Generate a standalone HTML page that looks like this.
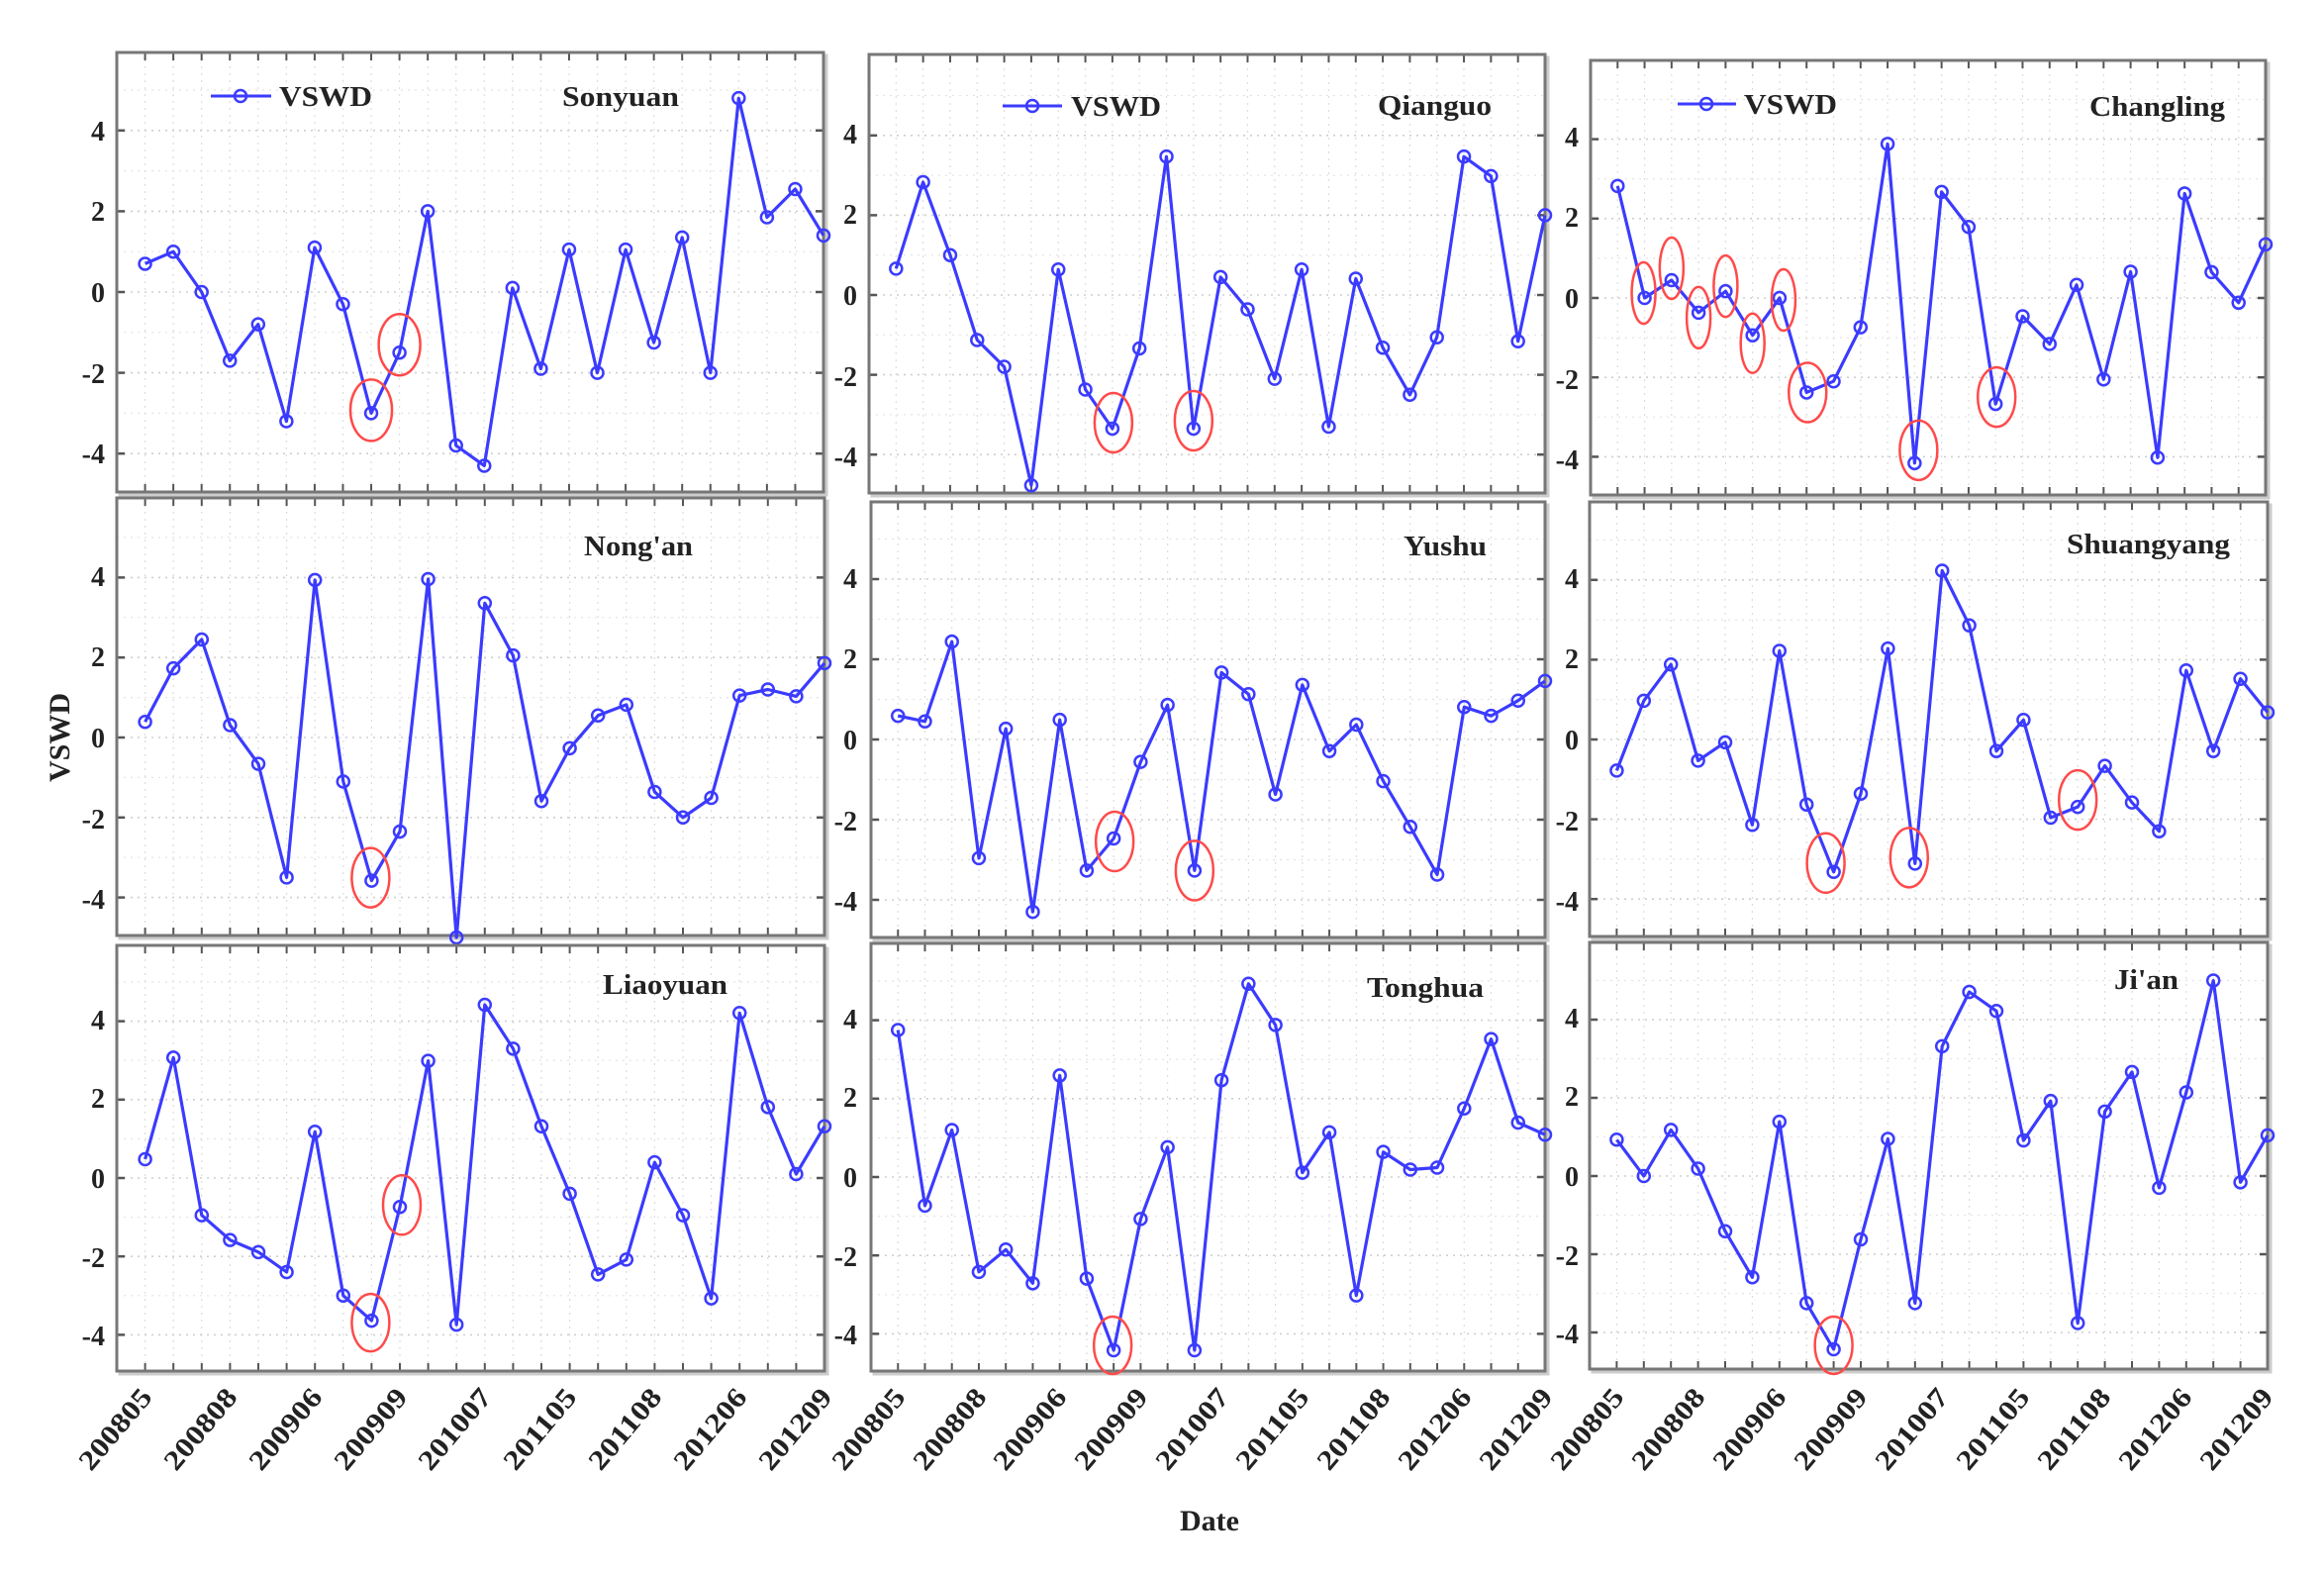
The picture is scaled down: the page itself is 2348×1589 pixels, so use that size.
<!DOCTYPE html>
<html><head><meta charset="utf-8">
<style>
html,body{margin:0;padding:0;background:#fff;}
svg text{font-family:"Liberation Serif",serif;font-weight:bold;fill:#222;}
</style></head>
<body>
<svg id="s" width="2348" height="1584" viewBox="0 0 2348 1584" xmlns="http://www.w3.org/2000/svg">
<rect width="2348" height="1584" fill="#fff"/>
<g id="plots"></g>

<g font-size="28" text-anchor="end">
  <g transform="translate(106,295)"><text y="-153">4</text><text y="-72">2</text><text y="10">0</text><text y="92">-2</text><text y="173">-4</text></g>
  <g transform="translate(866,298)"><text y="-153">4</text><text y="-72">2</text><text y="10">0</text><text y="92">-2</text><text y="173">-4</text></g>
  <g transform="translate(1595,301)"><text y="-153">4</text><text y="-72">2</text><text y="10">0</text><text y="92">-2</text><text y="173">-4</text></g>
  <g transform="translate(106,745)"><text y="-153">4</text><text y="-72">2</text><text y="10">0</text><text y="92">-2</text><text y="173">-4</text></g>
  <g transform="translate(866,747)"><text y="-153">4</text><text y="-72">2</text><text y="10">0</text><text y="92">-2</text><text y="173">-4</text></g>
  <g transform="translate(1595,747)"><text y="-153">4</text><text y="-72">2</text><text y="10">0</text><text y="92">-2</text><text y="173">-4</text></g>
  <g transform="translate(106,1190)"><text y="-150">4</text><text y="-71">2</text><text y="10">0</text><text y="90">-2</text><text y="169">-4</text></g>
  <g transform="translate(866,1189)"><text y="-150">4</text><text y="-71">2</text><text y="10">0</text><text y="90">-2</text><text y="169">-4</text></g>
  <g transform="translate(1595,1188)"><text y="-150">4</text><text y="-71">2</text><text y="10">0</text><text y="90">-2</text><text y="169">-4</text></g>
</g>

<g font-size="28">
  <line x1="213" y1="97" x2="274" y2="97" stroke="#3b3bff" stroke-width="3"/><circle cx="243" cy="97" r="6" fill="none" stroke="#3b3bff" stroke-width="2.5"/>
  <text x="282" y="107" textLength="94" lengthAdjust="spacingAndGlyphs">VSWD</text>
  <text x="568" y="107" textLength="118" lengthAdjust="spacingAndGlyphs">Sonyuan</text>

  <line x1="1013" y1="107" x2="1073" y2="107" stroke="#3b3bff" stroke-width="3"/><circle cx="1043" cy="107" r="6" fill="none" stroke="#3b3bff" stroke-width="2.5"/>
  <text x="1082" y="117" textLength="91" lengthAdjust="spacingAndGlyphs">VSWD</text>
  <text x="1392" y="116" textLength="115" lengthAdjust="spacingAndGlyphs">Qianguo</text>

  <line x1="1695" y1="105" x2="1754" y2="105" stroke="#3b3bff" stroke-width="3"/><circle cx="1724" cy="105" r="6" fill="none" stroke="#3b3bff" stroke-width="2.5"/>
  <text x="1762" y="115" textLength="94" lengthAdjust="spacingAndGlyphs">VSWD</text>
  <text x="2111" y="117" textLength="137" lengthAdjust="spacingAndGlyphs">Changling</text>

  <text x="590" y="561" textLength="110" lengthAdjust="spacingAndGlyphs">Nong'an</text>
  <text x="1418" y="561" textLength="84" lengthAdjust="spacingAndGlyphs">Yushu</text>
  <text x="2088" y="559" textLength="165" lengthAdjust="spacingAndGlyphs">Shuangyang</text>

  <text x="609" y="1004" textLength="126" lengthAdjust="spacingAndGlyphs">Liaoyuan</text>
  <text x="1381" y="1007" textLength="118" lengthAdjust="spacingAndGlyphs">Tonghua</text>
  <text x="2136" y="999" textLength="65" lengthAdjust="spacingAndGlyphs">Ji'an</text>
</g>

<g font-size="28" text-anchor="end">
  <text transform="translate(155,1412) rotate(-50)" textLength="98" lengthAdjust="spacingAndGlyphs">200805</text>
  <text transform="translate(241,1412) rotate(-50)" textLength="98" lengthAdjust="spacingAndGlyphs">200808</text>
  <text transform="translate(327,1412) rotate(-50)" textLength="98" lengthAdjust="spacingAndGlyphs">200906</text>
  <text transform="translate(413,1412) rotate(-50)" textLength="98" lengthAdjust="spacingAndGlyphs">200909</text>
  <text transform="translate(498,1412) rotate(-50)" textLength="98" lengthAdjust="spacingAndGlyphs">201007</text>
  <text transform="translate(584,1412) rotate(-50)" textLength="98" lengthAdjust="spacingAndGlyphs">201105</text>
  <text transform="translate(670,1412) rotate(-50)" textLength="98" lengthAdjust="spacingAndGlyphs">201108</text>
  <text transform="translate(756,1412) rotate(-50)" textLength="98" lengthAdjust="spacingAndGlyphs">201206</text>
  <text transform="translate(842,1412) rotate(-50)" textLength="98" lengthAdjust="spacingAndGlyphs">201209</text>

  <text transform="translate(916,1412) rotate(-50)" textLength="98" lengthAdjust="spacingAndGlyphs">200805</text>
  <text transform="translate(998,1412) rotate(-50)" textLength="98" lengthAdjust="spacingAndGlyphs">200808</text>
  <text transform="translate(1079,1412) rotate(-50)" textLength="98" lengthAdjust="spacingAndGlyphs">200906</text>
  <text transform="translate(1161,1412) rotate(-50)" textLength="98" lengthAdjust="spacingAndGlyphs">200909</text>
  <text transform="translate(1243,1412) rotate(-50)" textLength="98" lengthAdjust="spacingAndGlyphs">201007</text>
  <text transform="translate(1324,1412) rotate(-50)" textLength="98" lengthAdjust="spacingAndGlyphs">201105</text>
  <text transform="translate(1406,1412) rotate(-50)" textLength="98" lengthAdjust="spacingAndGlyphs">201108</text>
  <text transform="translate(1488,1412) rotate(-50)" textLength="98" lengthAdjust="spacingAndGlyphs">201206</text>
  <text transform="translate(1570,1412) rotate(-50)" textLength="98" lengthAdjust="spacingAndGlyphs">201209</text>

  <text transform="translate(1642,1412) rotate(-50)" textLength="98" lengthAdjust="spacingAndGlyphs">200805</text>
  <text transform="translate(1724,1412) rotate(-50)" textLength="98" lengthAdjust="spacingAndGlyphs">200808</text>
  <text transform="translate(1806,1412) rotate(-50)" textLength="98" lengthAdjust="spacingAndGlyphs">200906</text>
  <text transform="translate(1888,1412) rotate(-50)" textLength="98" lengthAdjust="spacingAndGlyphs">200909</text>
  <text transform="translate(1970,1412) rotate(-50)" textLength="98" lengthAdjust="spacingAndGlyphs">201007</text>
  <text transform="translate(2052,1412) rotate(-50)" textLength="98" lengthAdjust="spacingAndGlyphs">201105</text>
  <text transform="translate(2134,1412) rotate(-50)" textLength="98" lengthAdjust="spacingAndGlyphs">201108</text>
  <text transform="translate(2216,1412) rotate(-50)" textLength="98" lengthAdjust="spacingAndGlyphs">201206</text>
  <text transform="translate(2298,1412) rotate(-50)" textLength="98" lengthAdjust="spacingAndGlyphs">201209</text>
</g>

<text x="1222" y="1546" font-size="30" text-anchor="middle">Date</text>
<text transform="translate(70,745) rotate(-90)" font-size="30" text-anchor="middle">VSWD</text>
</svg>

<script>
var P=[
 {l:118,r:832,t:53,b:497,y0:295,u:40.8,d:[0.7,1.0,0,-1.7,-0.8,-3.2,1.1,-0.3,-3.0,-1.5,2.0,-3.8,-4.3,0.1,-1.9,1.05,-2.0,1.05,-1.25,1.35,-2.0,4.8,1.85,2.55,1.4],e:[[8,21,31,0,-3],[9,21,31,0,-8]]},
 {l:878,r:1561,t:55,b:498,y0:298,u:40.3,d:[0.66,2.83,1.0,-1.13,-1.8,-4.77,0.64,-2.37,-3.35,-1.34,3.47,-3.35,0.45,-0.36,-2.1,0.64,-3.3,0.41,-1.32,-2.5,-1.06,3.47,2.98,-1.16,2.0],e:[[8,19,30,1,-6],[11,19,30,0,-8]]},
 {l:1607,r:2289,t:61,b:500,y0:301,u:40.1,d:[2.82,0,0.45,-0.37,0.17,-0.94,0,-2.38,-2.1,-0.74,3.88,-4.16,2.67,1.79,-2.67,-0.46,-1.16,0.33,-2.05,0.66,-4.02,2.63,0.65,-0.12,1.35],e:[[1,12,31,-1,-5],[2,12,31,0,-12],[3,12,31,0,5],[4,12,31,0,-5],[5,12,30,0,8],[6,12,31,4,2],[7,19,30,1,0],[11,19,30,4,-13],[14,19,30,1,-7]]},
 {l:118,r:833,t:503,b:945,y0:745,u:40.4,d:[0.39,1.73,2.45,0.31,-0.66,-3.5,3.94,-1.1,-3.58,-2.35,3.96,-5.0,3.36,2.05,-1.59,-0.27,0.55,0.82,-1.36,-2.0,-1.51,1.05,1.2,1.03,1.86],e:[[8,19,30,-1,-3]]},
 {l:880,r:1561,t:507,b:947,y0:747,u:40.5,d:[0.59,0.45,2.44,-2.96,0.27,-4.3,0.49,-3.27,-2.47,-0.56,0.86,-3.27,1.67,1.13,-1.37,1.36,-0.29,0.37,-1.04,-2.18,-3.37,0.81,0.59,0.97,1.46],e:[[8,19,30,1,3],[11,19,30,0,0]]},
 {l:1606,r:2291,t:507,b:946,y0:747,u:40.3,d:[-0.78,0.97,1.88,-0.53,-0.07,-2.14,2.22,-1.63,-3.32,-1.36,2.28,-3.11,4.23,2.86,-0.29,0.49,-1.96,-1.69,-0.66,-1.58,-2.3,1.73,-0.29,1.52,0.68],e:[[8,19,30,-8,-9],[11,19,30,-6,-6],[17,19,30,0,-7]]},
 {l:118,r:833,t:955,b:1385,y0:1190,u:39.6,d:[0.48,3.07,-0.95,-1.58,-1.89,-2.4,1.18,-3.0,-3.64,-0.74,2.99,-3.74,4.42,3.3,1.32,-0.4,-2.46,-2.08,0.4,-0.95,-3.07,4.21,1.81,0.1,1.32],e:[[8,19,29,-1,2],[9,19,30,2,-2]]},
 {l:880,r:1561,t:953,b:1385,y0:1189,u:39.6,d:[3.75,-0.73,1.2,-2.42,-1.85,-2.71,2.59,-2.59,-4.42,-1.07,0.76,-4.42,2.47,4.93,3.88,0.11,1.14,-3.02,0.64,0.19,0.24,1.75,3.52,1.39,1.08],e:[[8,19,29,-1,-5]]},
 {l:1606,r:2291,t:952,b:1383,y0:1188,u:39.5,d:[0.93,0,1.18,0.19,-1.41,-2.59,1.39,-3.25,-4.43,-1.62,0.95,-3.25,3.32,4.71,4.22,0.91,1.92,-3.76,1.65,2.66,-0.3,2.14,5.0,-0.16,1.04],e:[[8,19,29,0,-4]]}
];
var NS="http://www.w3.org/2000/svg",G=document.getElementById("plots");
function el(n,a){var e=document.createElementNS(NS,n);for(var k in a)e.setAttribute(k,a[k]);G.appendChild(e);return e;}
P.forEach(function(p){
  var s=(p.r-p.l)/25;
  function X(i){return p.l+(i+1)*s;}
  function Y(v){return p.y0-v*p.u;}
  el("rect",{x:p.l+3,y:p.t+3,width:p.r-p.l,height:p.b-p.t,fill:"none",stroke:"#ccc","stroke-width":3});
  el("rect",{x:p.l,y:p.t,width:p.r-p.l,height:p.b-p.t,fill:"#fff"});
  for(var i=0;i<24;i++){var x=X(i);el("line",{x1:x,y1:p.t,x2:x,y2:p.b,stroke:"#ddd","stroke-width":1.2,"stroke-dasharray":"2 5"});}
  for(var v=-5;v<=5;v++){var y=Y(v);if(y<=p.t+2||y>=p.b-2)continue;el("line",{x1:p.l,y1:y,x2:p.r,y2:y,stroke:v%2==0?"#cfcfcf":"#e4e4e4","stroke-width":v%2==0?1.6:1.2,"stroke-dasharray":"2 5"});}
  for(var i=0;i<24;i++){var x=X(i);el("line",{x1:x,y1:p.t,x2:x,y2:p.t+8,stroke:"#555","stroke-width":2});el("line",{x1:x,y1:p.b,x2:x,y2:p.b-8,stroke:"#555","stroke-width":2});}
  for(var v=-4;v<=4;v+=2){var y=Y(v);el("line",{x1:p.l,y1:y,x2:p.l+8,y2:y,stroke:"#555","stroke-width":2.5});el("line",{x1:p.r,y1:y,x2:p.r-8,y2:y,stroke:"#555","stroke-width":2.5});}
  el("rect",{x:p.l,y:p.t,width:p.r-p.l,height:p.b-p.t,fill:"none",stroke:"#777","stroke-width":3});
  var pts=p.d.map(function(v,i){return X(i).toFixed(1)+","+Y(v).toFixed(1);}).join(" ");
  el("polyline",{points:pts,fill:"none",stroke:"#3b3bff","stroke-width":3.2,"stroke-linejoin":"round"});
  p.d.forEach(function(v,i){el("circle",{cx:X(i),cy:Y(v),r:6,fill:"none",stroke:"#3b3bff","stroke-width":2.5});});
  p.e.forEach(function(e){el("ellipse",{cx:X(e[0])+e[3],cy:Y(p.d[e[0]])+e[4],rx:e[1],ry:e[2],fill:"none",stroke:"#ff4a4a","stroke-width":2.5});});
});
</script>
</body></html>
